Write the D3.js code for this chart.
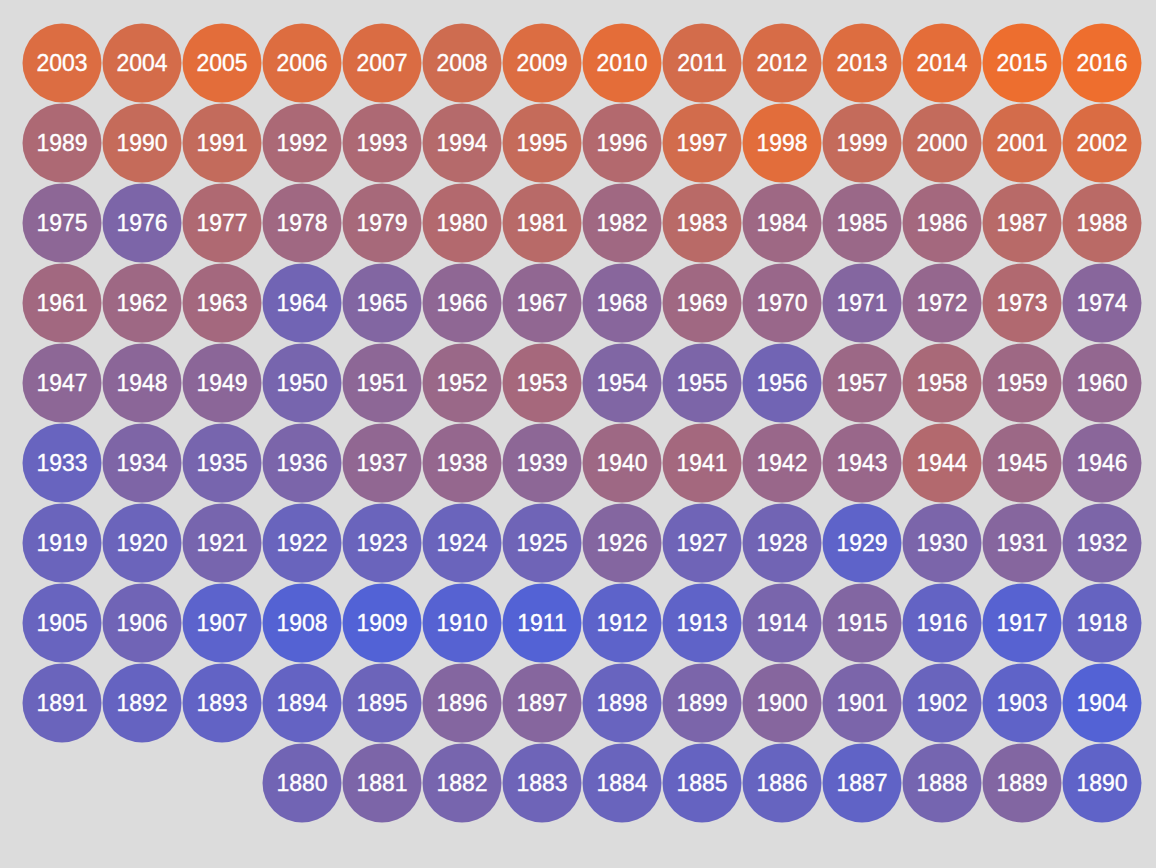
<!DOCTYPE html>
<html>
<head>
<meta charset="utf-8">
<script src="https://cdn.jsdelivr.net/npm/d3@7"></script>
<style>
  body { margin: 0; background: #dcdcdc; }
  svg { display: block; }
  .year-label { font-family: "Liberation Sans", Arial, sans-serif; font-size: 23px; fill: #fff; stroke: #fff; stroke-width: 0.35px; }
</style>
</head>
<body>
<script>
// global temperature anomaly per year (deg C), one circle each
var startYear = 1880;
var anomalies = [
  -0.20, -0.14, -0.17, -0.23, -0.27, -0.30, -0.29, -0.34, -0.18, -0.11,  // 1880s
  -0.35, -0.26, -0.30, -0.33, -0.31, -0.24, -0.10, -0.09, -0.28, -0.15,  // 1890s
  -0.09, -0.15, -0.27, -0.35, -0.45, -0.28, -0.21, -0.38, -0.44, -0.46,  // 1900s
  -0.43, -0.45, -0.37, -0.35, -0.16, -0.11, -0.32, -0.42, -0.30, -0.26,  // 1910s
  -0.25, -0.17, -0.27, -0.26, -0.26, -0.22, -0.10, -0.22, -0.20, -0.36,  // 1920s
  -0.15, -0.09, -0.14, -0.28, -0.13, -0.17, -0.15, -0.03, -0.01, -0.05,  // 1930s
   0.04,  0.07,  0.01,  0.01,  0.15,  0.03, -0.07, -0.05, -0.06, -0.06,  // 1940s
  -0.17, -0.05,  0.02,  0.08, -0.12, -0.14, -0.20,  0.03,  0.10,  0.04,  // 1950s
  -0.02,  0.06,  0.04,  0.07, -0.20, -0.11, -0.04, -0.03, -0.08,  0.05,  // 1960s
   0.01, -0.10, -0.01,  0.14, -0.08, -0.05, -0.14,  0.13,  0.05,  0.09,  // 1970s
   0.15,  0.19,  0.05,  0.20,  0.04,  0.02,  0.07,  0.19,  0.21,  0.12,  // 1980s
   0.30,  0.28,  0.11,  0.12,  0.17,  0.30,  0.15,  0.40,  0.53,  0.29,  // 1990s
   0.28,  0.41,  0.47,  0.48,  0.42,  0.54,  0.49,  0.47,  0.37,  0.48,  // 2000s
   0.55,  0.41,  0.44,  0.49,  0.56,  0.75,  0.77                         // 2010s
];
var years = anomalies.map((d, i) => startYear + i);

var colorStops = [-0.46, -0.20, 0.15, 0.54, 0.78];
var colorSteps = [0, 0.2, 0.62, 0.93, 1];
var coldColor = "#5262d6";
var warmColor = "#ee6e2e";

var nCols = 14, nRows = 10;
var offset = nCols * nRows - years.length; // empty cells before 1880

var width = 1156, height = 868;
var svg = d3.select("body").append("svg")
    .attr("width", width)
    .attr("height", height);

//column / row to pixel centre
var x = d3.scaleLinear().domain([0, nCols - 1]).range([62, 1102]);
var y = d3.scaleLinear().domain([0, nRows - 1]).range([63, 783]);

var t = d3.scaleLinear().domain(colorStops).range(colorSteps).clamp(true);
var color = v => d3.interpolateRgb(coldColor, warmColor)(t(v));

var data = years.map((yr, i) => {
    var k = i + offset;
    return {year: yr, value: anomalies[i], col: k % nCols, row: nRows - 1 - Math.floor(k / nCols)};
});

var cell = svg.selectAll(".year")
    .data(data).enter()
    .append("g")
    .attr("class", "year")
    .attr("transform", d => "translate(" + x(d.col) + "," + y(d.row) + ")");

cell.append("circle")
    .attr("r", 39.5)
    .attr("fill", d => color(d.value));

cell.append("text")
    .attr("class", "year-label")
    .attr("text-anchor", "middle")
    .attr("dy", "0.35em")
    .text(d => d.year);
</script>
</body>
</html>
